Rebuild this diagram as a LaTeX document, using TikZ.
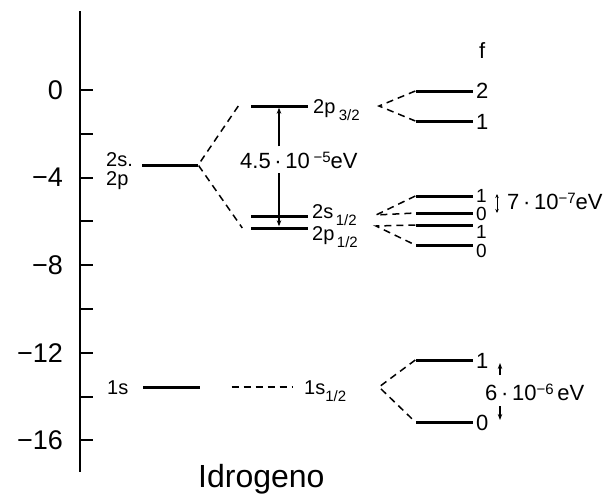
\documentclass[tikz,border=0pt]{standalone}
\usepackage{fontspec}
\setmainfont{Liberation Sans}
\usetikzlibrary{arrows.meta,positioning}
\tikzset{lvl/.style={fill,inner sep=0pt,minimum height=3pt,minimum width=57pt},
 split/.style={line width=1.5pt,dash pattern=on 7pt off 5pt},
 tag/.style={inner sep=0pt,anchor=base west,font=\fontsize{20}{20}\selectfont},
 fnum/.style={inner sep=0pt,anchor=base west,font=\fontsize{22}{22}\selectfont},
 elab/.style={inner sep=0pt,anchor=east,font=\fontsize{27}{27}\selectfont},
 gap/.style={line width=1.2pt,-{Stealth[length=6pt,width=4.5pt]}},
 both/.style={line width=1pt,{Stealth[length=4pt,width=3.5pt]}-{Stealth[length=4pt,width=3.5pt]}}}
\newcommand{\hsub}[1]{\raisebox{-7pt}{\fontsize{15}{15}\selectfont#1}}
\newcommand{\hsup}[1]{\raisebox{6pt}{\fontsize{15}{15}\selectfont#1}}

\begin{document}
\begin{tikzpicture}[x=1pt,y=-1pt]
\useasboundingbox (0,0) rectangle (616,496);
\coordinate (top) at (80,11);\coordinate (bot) at (80,472);
\draw[line width=2.4pt] (top)--(bot);
\foreach \k in {0,...,8} \draw[line width=2pt] (80,90+43.8*\k)--++(13,0);
\foreach \k/\e in {0/0,2/−4,4/−8,6/−12,8/−16} \node[elab] (e\k) at (63,90+43.8*\k) {\e};
\node[lvl,minimum width=56pt] (s2) at (170,165) {};
\node[tag] (t2a) at (106,166) {2s.};
\node[tag] (t2b) at (106,185) {2p};
\node[lvl] (p32) at (279,106) {};
\node[lvl] (s12) at (279,216) {};\node[lvl] (p12) at (279,228) {};
\node[tag] (t32) at (313,113) {2p\,\hsub{3/2}};
\node[tag] (ts) at (312,218) {2s\hsub{\,1/2}};
\node[tag] (tp) at (312,240) {2p\hsub{\,1/2}};
\draw[split] ([xshift=-12pt]p32.west)--(s2.east)--([xshift=-8pt]p12.west);
\node[fnum,inner ysep=5pt] (t45) at (240,168) {4.5\,·\,10\,\hsup{−5}eV};
\draw[gap] (p32 |- t45.north)--(p32);
\draw[gap] (p12 |- t45.south)--(p12);
\node[fnum] (fh) at (479,58) {f};
\node[lvl] (fa2) at (444,91) {};\node[lvl] (fa1) at (444,121) {};
\coordinate (k32) at (379,106);
\draw[split] (fa2.west)--(k32)--(fa1.west);
\node[fnum] (na2) at (476,98) {2};\node[fnum] (na1) at (476,129) {1};
\node[lvl] (fb1) at (444,196) {};\node[lvl] (fb0) at (444,213) {};
\node[lvl] (fc1) at (444,225) {};\node[lvl] (fc0) at (444,245) {};
\coordinate (ks) at (376,215);\coordinate (kp) at (376,226);
\draw[split] (fb1.west)--(ks)--(fb0.west) (fc1.west)--(kp)--(fc0.west);
\node[fnum,font=\fontsize{19}{19}\selectfont] (nb1) at (476,202) {1};
\node[fnum,font=\fontsize{19}{19}\selectfont] (nb0) at (476,220) {0};
\node[fnum,font=\fontsize{19}{19}\selectfont] (nc1) at (476,238) {1};
\node[fnum,font=\fontsize{19}{19}\selectfont] (nc0) at (476,257) {0};
\node[fnum] (t7) at (507,209) {7\,·\,10\hsup{−7}eV};
\draw[both] ([shift={(-10pt,15pt)}]t7.base west)--([shift={(-10pt,-4pt)}]t7.base west);
\node[lvl] (s1) at (171,387) {};
\node[tag] (t1) at (107,394) {1s};
\node[tag] (t1h) at (304,394) {1s\hsub{1/2}};
\draw[split] ([xshift=32pt]s1.east)--([xshift=-12pt]t1h.west |- s1);
\node[lvl] (g1) at (444,360) {};\node[lvl] (g0) at (444,422) {};
\coordinate (k1) at (379,387);
\draw[split] (g1.west)--(k1)--(g0.west);
\node[fnum] (ng1) at (476,368) {1};\node[fnum] (ng0) at (476,430) {0};
\node[fnum] (t6) at (485,400) {6\,·\,10\hsup{−6}\,eV};
\draw[gap] ([shift={(15pt,25pt)}]t6.base west)--++(0,-12);
\draw[gap] ([shift={(15pt,-6pt)}]t6.base west)--++(0,14);
\node[inner sep=0pt,anchor=base west,font=\fontsize{32}{32}\selectfont] (nm) at (198,487) {Idrogeno};
\end{tikzpicture}
\end{document}
